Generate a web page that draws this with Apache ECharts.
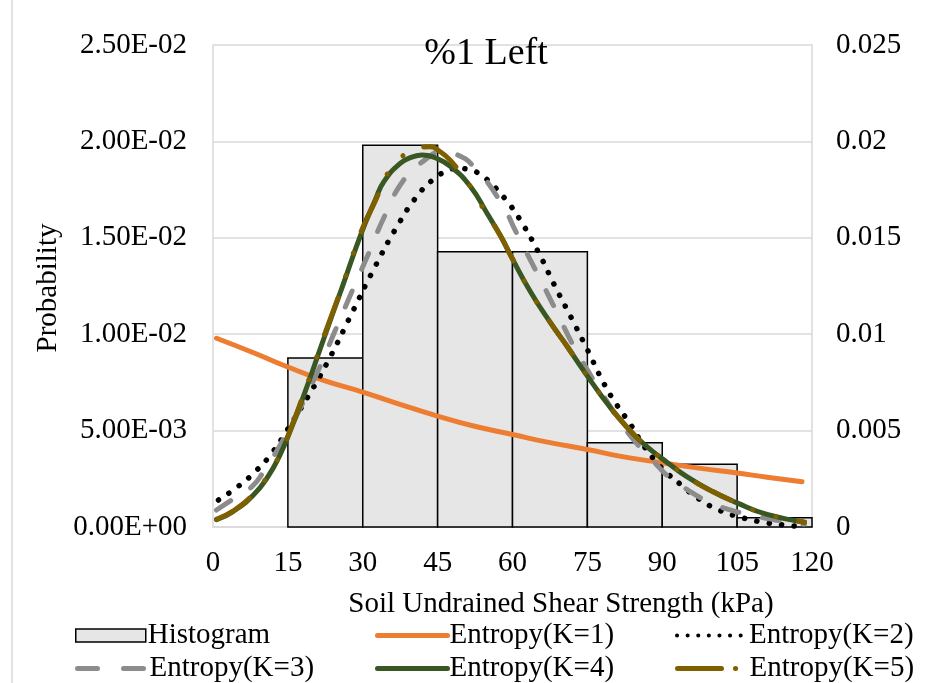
<!DOCTYPE html>
<html>
<head>
<meta charset="utf-8">
<script src="https://cdn.jsdelivr.net/npm/echarts@6/dist/echarts.min.js"></script>
<style>html,body{margin:0;padding:0;background:#fff;}#chart{width:947px;height:683px;}</style>
</head>
<body>
<div id="chart"></div>
<script>
// ---- data (probability values in units of 1e-3) ----
const xTicks = [0, 15, 30, 45, 60, 75, 90, 105, 120];
const histEdges = [15, 30, 45, 60, 75, 90, 105, 120];
const histProb = [8.77, 19.8, 14.28, 14.28, 4.37, 3.25, 0.48];

const k1 = [[0.7,9.79],[8,9.05],[15,8.3],[22,7.62],[30,7.0],[37,6.4],[45,5.75],[52,5.25],[60,4.8],[67,4.4],[75,4.02],[82,3.65],[90,3.33],[97.7,3.04],[105,2.8],[111,2.58],[118,2.35]];
const k2 = [[1.1,1.4],[5,2.1],[8.8,2.96],[12,3.9],[14.65,4.94],[19.8,7.1],[23.5,8.83],[27.8,11.08],[32.2,13.37],[36.9,15.6],[41,17.2],[44.4,18.09],[46.6,18.43],[48.9,18.6],[51.2,18.55],[53.5,18.3],[55.4,17.9],[58.7,16.96],[61.6,15.9],[65.2,14.25],[68.4,12.55],[71.8,10.84],[75,9.2],[78.3,7.45],[80.9,6.33],[83.7,5.3],[86.4,4.17],[89.4,3.2],[91,2.78],[94,2.14],[96.7,1.57],[101,0.92],[105.8,0.5],[110.4,0.24],[115.5,0.07],[118.5,0.02]];
const k3 = [[0.7,0.88],[3.75,1.4],[7.8,2.1],[10.1,2.87],[14.8,4.87],[20.8,7.97],[24.5,10.2],[27.8,12.2],[31.2,14.2],[34.5,16.2],[38.2,18.0],[42,18.95],[46,19.47],[49,19.3],[52.2,18.7],[57.6,16.87],[60.9,15.2],[65.3,12.98],[69,11.08],[72,9.5],[75,8.15],[78.5,6.7],[81.7,5.4],[85.7,4.08],[88,3.47],[91.3,2.6],[95.1,1.92],[98.4,1.42],[102,1.02],[107.8,0.62],[113,0.35],[118.5,0.15]];
const k4 = [[0.7,0.38],[4,0.8],[8.1,1.66],[11.1,2.65],[13.4,3.73],[15.5,5.0],[18.1,6.76],[22.1,9.7],[26.1,12.6],[29.8,15.3],[32.5,16.96],[34.2,17.9],[37.5,18.86],[40,19.2],[41.9,19.3],[44.5,19.15],[47.6,18.7],[51.6,17.65],[54.9,16.27],[57.6,15.1],[59.6,14.1],[63.6,12.2],[67.6,10.6],[71,9.35],[74,8.2],[77.7,6.85],[81,5.75],[84.3,4.8],[87.7,4.0],[91,3.35],[95,2.6],[100,1.85],[105,1.25],[111,0.65],[118.5,0.25]];
const k5 = [[0.7,0.4],[4,0.82],[8.1,1.7],[11.1,2.7],[13.4,3.78],[15.5,5.05],[18.1,6.85],[22.1,9.8],[26.1,12.65],[29.8,15.4],[32.5,16.9],[35,18.35],[37.2,19.05],[39.5,19.5],[41.1,19.68],[43.5,19.72],[45.6,19.45],[47.6,19.0],[51.2,17.8],[53.6,16.75],[57.6,15.1],[59.6,14.1],[63.6,12.2],[67.6,10.6],[71,9.35],[74,8.2],[77.7,6.85],[81,5.75],[84.3,4.8],[87.7,4.0],[91,3.35],[95,2.6],[100,1.85],[105,1.25],[111,0.65],[118.5,0.25]];
const seriesNames = ['Histogram','Entropy(K=1)','Entropy(K=2)','Entropy(K=3)','Entropy(K=4)','Entropy(K=5)'];

const UNIT = 1e-3;
const toProb = arr => arr.map(p => [p[0], p[1] * UNIT]);
const histData = histProb.map((v, i) => [histEdges[i], histEdges[i + 1], v * UNIT]);

const FONT = '"Liberation Serif", "Times New Roman", serif';

function sci(v) {
  if (v === 0) return '0.00E+00';
  const e = Math.floor(Math.log10(Math.abs(v)) + 1e-9);
  const m = v / Math.pow(10, e);
  return m.toFixed(2) + 'E' + (e < 0 ? '-' : '+') + String(Math.abs(e)).padStart(2, '0');
}
function plain(v) {
  return String(parseFloat(v.toFixed(4)));
}

const chart = echarts.init(document.getElementById('chart'), null, {renderer: 'canvas'});

const lineStyles = [
  null,
  {color: '#ED7D31', width: 5, cap: 'round'},
  {color: '#000000', width: 5.5, type: [0.1, 12.4], cap: 'round'},
  {color: '#8c8c8c', width: 5, type: [17, 24], cap: 'round'},
  {color: '#385723', width: 5, cap: 'round'},
  {color: '#7F6000', width: 5, type: [40, 23, 0.1, 24, 0.1, 23], cap: 'round'}
];
const legendLineStyles = [
  null,
  {color: '#ED7D31', width: 5, cap: 'round'},
  {color: '#000000', width: 4, type: [0.1, 10.5], cap: 'round'},
  {color: '#8c8c8c', width: 5, type: [20, 26], cap: 'round'},
  {color: '#385723', width: 5, cap: 'round'},
  {color: '#7F6000', width: 5, type: [44, 14, 0.1, 30], cap: 'round'}
];

const legendPos = [[75,621],[375,621],[675,621],[75,654],[375,654],[675,654]];
const legends = seriesNames.map((n, i) => {
  const item = {name: n};
  if (i === 0) {
    item.icon = 'rect';
    item.itemStyle = {color: '#e7e6e6', borderColor: '#000', borderWidth: 1.5};
  } else {
    item.itemStyle = {opacity: 0};
    item.lineStyle = legendLineStyles[i];
  }
  return {
    data: [item], left: legendPos[i][0], top: legendPos[i][1],
    itemWidth: 70, itemHeight: 13, itemGap: 0, padding: 0,
    selectedMode: false,
    textStyle: {fontFamily: FONT, fontSize: 29, color: '#000', padding: [0,0,0,-3]}
  };
});

const gridLine = {show: true, lineStyle: {color: '#d9d9d9', width: 1.5}};
const axisLine = {show: true, lineStyle: {color: '#d9d9d9', width: 1.5}};

const series = [
  {
    name: seriesNames[0], type: 'custom', yAxisIndex: 0,
    itemStyle: {color: '#e7e6e6', borderColor: '#000', borderWidth: 1.5},
    encode: {x: [0, 1], y: 2},
    data: histData,
    renderItem: function (params, api) {
      const p0 = api.coord([api.value(0), api.value(2)]);
      const p1 = api.coord([api.value(1), 0]);
      return {
        type: 'rect',
        shape: {x: p0[0], y: p0[1], width: p1[0] - p0[0], height: p1[1] - p0[1]},
        style: {fill: '#e7e6e6', stroke: '#000', lineWidth: 1.5}
      };
    },
    z: 1
  }
];
[k1, k2, k3, k4, k5].forEach((arr, j) => {
  const i = j + 1;
  series.push({
    name: seriesNames[i], type: 'line', data: toProb(arr),
    smooth: 0.5, showSymbol: false, symbol: 'none',
    lineStyle: lineStyles[i], itemStyle: {color: lineStyles[i].color}, z: 1 + i
  });
});

const option = {
  backgroundColor: '#fff',
  animation: false,
  grid: {left: 213, right: 135, top: 45, bottom: 156, containLabel: false},
  legend: legends,
  xAxis: {
    type: 'value', min: 0, max: 120, interval: 15,
    axisLine: axisLine, axisTick: {show: false}, splitLine: {show: false},
    axisLabel: {fontFamily: FONT, fontSize: 29, color: '#000', margin: 22,
      formatter: v => xTicks.indexOf(v) >= 0 ? String(v) : ''}
  },
  yAxis: [
    {type: 'value', min: 0, max: 0.025, interval: 0.005, position: 'left',
     axisLine: axisLine, axisTick: {show: false}, splitLine: gridLine,
     axisLabel: {fontFamily: FONT, fontSize: 29, color: '#000', margin: 26, formatter: sci}},
    {type: 'value', min: 0, max: 0.025, interval: 0.005, position: 'right',
     axisLine: axisLine, axisTick: {show: false}, splitLine: {show: false},
     axisLabel: {fontFamily: FONT, fontSize: 29, color: '#000', margin: 24, formatter: plain}}
  ],
  graphic: [
    {type: 'line', shape: {x1: 12, y1: 0, x2: 12, y2: 683}, style: {stroke: '#d9d9d9', lineWidth: 1.5}, silent: true},
    {type: 'text', x: 486, y: 54, style: {text: '%1 Left', font: '38px ' + FONT, fill: '#000', textAlign: 'center', textVerticalAlign: 'middle'}, z: 10},
    {type: 'text', x: 561, y: 604, style: {text: 'Soil Undrained Shear Strength (kPa)', font: '29px ' + FONT, fill: '#000', textAlign: 'center', textVerticalAlign: 'middle'}},
    {type: 'text', x: 48, y: 288, rotation: Math.PI / 2, style: {text: 'Probability', font: '29px ' + FONT, fill: '#000', textAlign: 'center', textVerticalAlign: 'middle'}}
  ],
  series: series
};
chart.setOption(option);
</script>
</body>
</html>
